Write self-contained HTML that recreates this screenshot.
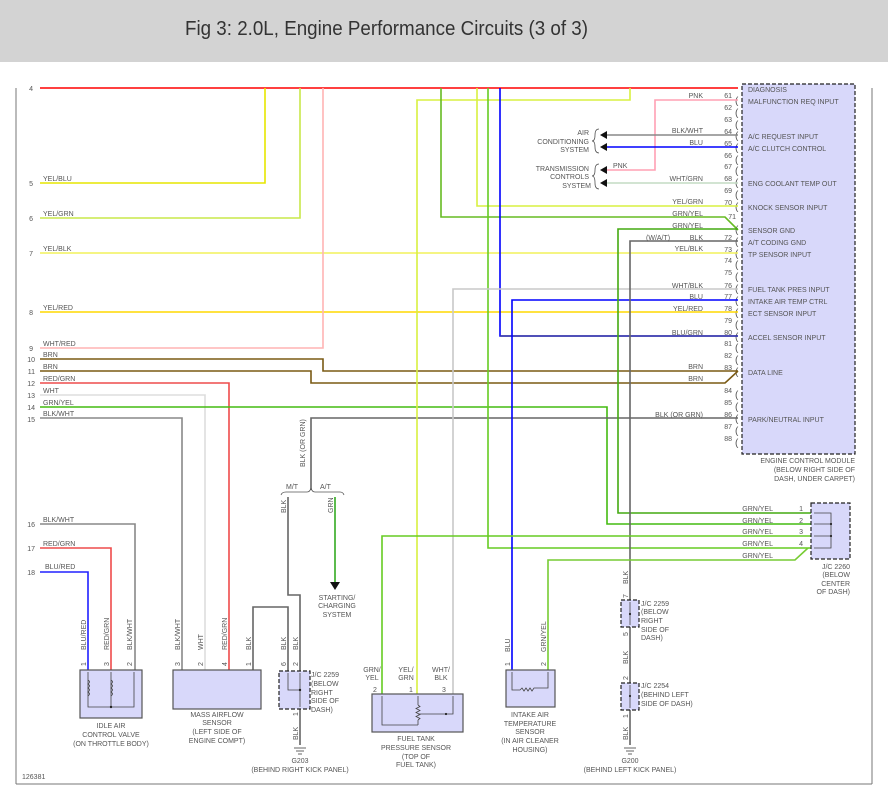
<!DOCTYPE html>
<html><head><meta charset="utf-8"><style>
html,body{margin:0;padding:0;background:#fff;width:888px;height:800px;overflow:hidden}
svg{display:block}
text{font-family:"Liberation Sans",sans-serif;font-size:7px;fill:#555}
.t{font-size:7.2px}
.w{fill:none;stroke-width:1.6}
</style></head><body>
<svg width="888" height="800" viewBox="0 0 888 800" xmlns="http://www.w3.org/2000/svg">
<rect x="0" y="0" width="888" height="62" fill="#d3d3d3"/>
<text x="185" y="35" style="font-size:20px;fill:#333" textLength="403" lengthAdjust="spacingAndGlyphs">Fig 3: 2.0L, Engine Performance Circuits (3 of 3)</text>
<line x1="16" y1="88" x2="16" y2="784" stroke="#777" stroke-width="1"/>
<line x1="872" y1="88" x2="872" y2="784" stroke="#777" stroke-width="1"/>
<line x1="16" y1="784" x2="872" y2="784" stroke="#777" stroke-width="1"/>

<!-- ECM box -->
<rect x="742" y="84" width="113" height="370" fill="#d8d8fa" stroke="#222" stroke-width="1.2" stroke-dasharray="4,2"/>
<g>
<text x="748" y="92">DIAGNOSIS</text>
<text x="748" y="104">MALFUNCTION REQ INPUT</text>
<text x="748" y="139">A/C REQUEST INPUT</text>
<text x="748" y="151">A/C CLUTCH CONTROL</text>
<text x="748" y="186">ENG COOLANT TEMP OUT</text>
<text x="748" y="210">KNOCK SENSOR INPUT</text>
<text x="748" y="233">SENSOR GND</text>
<text x="748" y="245">A/T CODING GND</text>
<text x="748" y="257">TP SENSOR INPUT</text>
<text x="748" y="292">FUEL TANK PRES INPUT</text>
<text x="748" y="304">INTAKE AIR TEMP CTRL</text>
<text x="748" y="316">ECT SENSOR INPUT</text>
<text x="748" y="340">ACCEL SENSOR INPUT</text>
<text x="748" y="375">DATA LINE</text>
<text x="748" y="422">PARK/NEUTRAL INPUT</text>
<text x="855" y="463" text-anchor="end">ENGINE CONTROL MODULE</text>
<text x="855" y="472" text-anchor="end">(BELOW RIGHT SIDE OF</text>
<text x="855" y="481" text-anchor="end">DASH, UNDER CARPET)</text>
</g>
<!-- ECM pin numbers -->
<g text-anchor="end">
<text x="732" y="98">61</text><text x="732" y="110">62</text><text x="732" y="122">63</text>
<text x="732" y="134">64</text><text x="732" y="146">65</text><text x="732" y="158">66</text>
<text x="732" y="169">67</text><text x="732" y="181">68</text><text x="732" y="193">69</text>
<text x="732" y="205">70</text><text x="736" y="219">71</text><text x="732" y="240">72</text>
<text x="732" y="252">73</text><text x="732" y="263">74</text><text x="732" y="275">75</text>
<text x="732" y="288">76</text><text x="732" y="299">77</text><text x="732" y="311">78</text>
<text x="732" y="323">79</text><text x="732" y="335">80</text><text x="732" y="346">81</text>
<text x="732" y="358">82</text><text x="732" y="370">83</text><text x="732" y="393">84</text>
<text x="732" y="405">85</text><text x="732" y="417">86</text><text x="732" y="429">87</text>
<text x="732" y="441">88</text>
</g>
<g style="font-size:10px" fill="#333">
<text x="735" y="104" style="font-size:10px">(</text><text x="735" y="116" style="font-size:10px">(</text><text x="735" y="128" style="font-size:10px">(</text>
<text x="735" y="139" style="font-size:10px">(</text><text x="735" y="151" style="font-size:10px">(</text><text x="735" y="163" style="font-size:10px">(</text>
<text x="735" y="174" style="font-size:10px">(</text><text x="735" y="186" style="font-size:10px">(</text><text x="735" y="198" style="font-size:10px">(</text>
<text x="735" y="210" style="font-size:10px">(</text><text x="735" y="233" style="font-size:10px">(</text><text x="735" y="245" style="font-size:10px">(</text>
<text x="735" y="257" style="font-size:10px">(</text><text x="735" y="268" style="font-size:10px">(</text><text x="735" y="280" style="font-size:10px">(</text>
<text x="735" y="292" style="font-size:10px">(</text><text x="735" y="304" style="font-size:10px">(</text><text x="735" y="316" style="font-size:10px">(</text>
<text x="735" y="328" style="font-size:10px">(</text><text x="735" y="340" style="font-size:10px">(</text><text x="735" y="351" style="font-size:10px">(</text>
<text x="735" y="363" style="font-size:10px">(</text><text x="735" y="375" style="font-size:10px">(</text><text x="735" y="398" style="font-size:10px">(</text>
<text x="735" y="410" style="font-size:10px">(</text><text x="735" y="422" style="font-size:10px">(</text><text x="735" y="434" style="font-size:10px">(</text>
<text x="735" y="446" style="font-size:10px">(</text>
</g>

<!-- wires -->
<path class="w" stroke="#ff0000" d="M40 88 H738"/>
<path class="w" stroke="#e6e600" d="M40 183 H265 V88"/>
<path class="w" stroke="#c8e84a" d="M40 218 H300 V88"/>
<path class="w" stroke="#f2f25a" d="M40 253 H738"/>
<path class="w" stroke="#ffd800" d="M40 312 H738"/>
<path class="w" stroke="#ffb4b4" d="M40 348 H323 V88"/>
<path class="w" stroke="#7a5a14" d="M40 359 H323 V371 H738"/>
<path class="w" stroke="#7a5a14" d="M40 371 H311 V383 H725 L738 371"/>
<path class="w" stroke="#ee4b4b" d="M40 383 H229 V670"/>
<path class="w" stroke="#dddddd" d="M40 395 H205 V670"/>
<path class="w" stroke="#44bb11" d="M40 407 H607 V524 H812"/>
<path class="w" stroke="#888888" d="M40 418 H182 V670"/>
<path class="w" stroke="#666666" d="M738 418 H311 V490"/>
<path class="w" stroke="#ffa0b4" d="M738 100 H655 V170 H605"/>
<path class="w" stroke="#888888" d="M738 135 H605"/>
<path class="w" stroke="#0000ff" d="M738 147 H605"/>
<path class="w" stroke="#c4dcc4" d="M738 183 H605"/>
<path class="w" stroke="#d8f040" d="M630 88 V100 H417 V694"/>
<path class="w" stroke="#66bb22" d="M441 88 V217 H725 L738 230"/>
<path class="w" stroke="#d8f040" d="M477 88 V206 H738"/>
<path class="w" stroke="#66cc22" d="M488 88 V548 H812"/>
<path class="w" stroke="#0000ff" d="M500 88 V336 H738"/>
<path class="w" stroke="#4040a0" d="M500 336 H738" stroke-width="0.6"/>
<path class="w" stroke="#0000ff" d="M512 670 V300 H738"/>
<path class="w" stroke="#c8c8c8" d="M453 694 V289 H738"/>
<path class="w" stroke="#44aa11" d="M738 229 H618 V513 H812"/>
<path class="w" stroke="#666666" d="M738 241 H630 V600"/>
<path class="w" stroke="#66cc22" d="M382 694 V536 H812"/>
<path class="w" stroke="#77cc33" d="M548 670 V560 H795 L808 548"/>
<path class="w" stroke="#2020ff" d="M40 572 H88 V670"/>
<path class="w" stroke="#ee4b4b" d="M40 548 H111 V670"/>
<path class="w" stroke="#888888" d="M40 524 H135 V670"/>
<path class="w" stroke="#666666" d="M253 670 V607 H288 V671"/>
<path class="w" stroke="#666666" d="M288 497 V595 H300 V671"/>
<path class="w" stroke="#33aa22" d="M335 497 V583"/>
<path d="M330 582 L340 582 L335 590 Z" fill="#111"/>
<path class="w" stroke="#666666" d="M300 709 V745"/>
<path class="w" stroke="#666666" d="M630 627 V683"/>
<path class="w" stroke="#666666" d="M630 710 V745"/>

<!-- wire numbers & labels left -->
<g text-anchor="end">
<text x="33" y="91">4</text><text x="33" y="186">5</text><text x="33" y="221">6</text>
<text x="33" y="256">7</text><text x="33" y="315">8</text><text x="33" y="351">9</text>
<text x="35" y="362">10</text><text x="35" y="374">11</text><text x="35" y="386">12</text>
<text x="35" y="398">13</text><text x="35" y="410">14</text><text x="35" y="422">15</text>
<text x="35" y="527">16</text><text x="35" y="551">17</text><text x="35" y="575">18</text>
</g>
<g>
<text x="43" y="181">YEL/BLU</text><text x="43" y="216">YEL/GRN</text><text x="43" y="251">YEL/BLK</text>
<text x="43" y="310">YEL/RED</text><text x="43" y="346">WHT/RED</text><text x="43" y="357">BRN</text>
<text x="43" y="369">BRN</text><text x="43" y="381">RED/GRN</text><text x="43" y="393">WHT</text>
<text x="43" y="405">GRN/YEL</text><text x="43" y="416">BLK/WHT</text>
<text x="43" y="522">BLK/WHT</text><text x="43" y="546">RED/GRN</text><text x="45" y="569">BLU/RED</text>
</g>
<!-- ECM side wire labels -->
<g text-anchor="end">
<text x="703" y="98">PNK</text><text x="703" y="133">BLK/WHT</text><text x="703" y="145">BLU</text>
<text x="703" y="181">WHT/GRN</text><text x="703" y="204">YEL/GRN</text><text x="703" y="216">GRN/YEL</text>
<text x="703" y="228">GRN/YEL</text><text x="703" y="240">BLK</text><text x="703" y="251">YEL/BLK</text>
<text x="703" y="288">WHT/BLK</text><text x="703" y="299">BLU</text><text x="703" y="311">YEL/RED</text>
<text x="703" y="335">BLU/GRN</text><text x="703" y="369">BRN</text><text x="703" y="381">BRN</text>
<text x="703" y="417">BLK (OR GRN)</text>
</g>
<text x="646" y="240">(W/A/T)</text>
<text x="613" y="168">PNK</text>
<!-- AC / trans arrows -->
<g fill="#111">
<path d="M600 135 L607 131 L607 139 Z"/><path d="M600 147 L607 143 L607 151 Z"/>
<path d="M600 170 L607 166 L607 174 Z"/><path d="M600 183 L607 179 L607 187 Z"/>
</g>
<path d="M599 129 Q595 129 595 135 Q595 141 592 141 Q595 141 595 147 Q595 153 599 153" fill="none" stroke="#555" stroke-width="0.8"/>
<path d="M599 164 Q595 164 595 170 Q595 176 592 176 Q595 176 595 183 Q595 189 599 189" fill="none" stroke="#555" stroke-width="0.8"/>
<g text-anchor="end">
<text x="589" y="135">AIR</text><text x="589" y="144">CONDITIONING</text><text x="589" y="152">SYSTEM</text>
<text x="589" y="171">TRANSMISSION</text><text x="589" y="179">CONTROLS</text><text x="591" y="188">SYSTEM</text>
</g>

<!-- M/T A/T brace -->
<path d="M281 495 Q282 492 286 492 H307 Q310 492 311 488 Q312 492 315 492 H340 Q343 492 344 495" fill="none" stroke="#555" stroke-width="0.8"/>
<text x="286" y="489">M/T</text><text x="320" y="489">A/T</text>
<text transform="translate(305,467) rotate(-90)">BLK (OR GRN)</text>
<text transform="translate(286,513) rotate(-90)">BLK</text>
<text transform="translate(333,513) rotate(-90)">GRN</text>
<g text-anchor="middle">
<text x="337" y="600">STARTING/</text><text x="337" y="608">CHARGING</text><text x="337" y="617">SYSTEM</text>
</g>

<!-- Idle air control valve -->
<rect x="80" y="670" width="62" height="48" fill="#d8d8fa" stroke="#555" stroke-width="1.2"/>
<path d="M88 672 V707 H134 V672 M111 672 V707" fill="none" stroke="#444" stroke-width="0.8"/>
<path d="M88 680 q3 2 0 4 q3 2 0 4 q3 2 0 4 q3 2 0 4 M111 680 q3 2 0 4 q3 2 0 4 q3 2 0 4 q3 2 0 4" fill="none" stroke="#444" stroke-width="0.8"/>
<circle cx="111" cy="707" r="1.2" fill="#222"/>
<g text-anchor="middle"><text x="111" y="728">IDLE AIR</text><text x="111" y="737">CONTROL VALVE</text><text x="111" y="746">(ON THROTTLE BODY)</text></g>
<g>
<text transform="translate(86,650) rotate(-90)">BLU/RED</text>
<text transform="translate(109,650) rotate(-90)">RED/GRN</text>
<text transform="translate(132,650) rotate(-90)">BLK/WHT</text>
<text transform="translate(86,666) rotate(-90)">1</text>
<text transform="translate(109,666) rotate(-90)">3</text>
<text transform="translate(132,666) rotate(-90)">2</text>
</g>
<!-- MAF -->
<rect x="173" y="670" width="88" height="39" fill="#d8d8fa" stroke="#555" stroke-width="1.2"/>
<g text-anchor="middle"><text x="217" y="717">MASS AIRFLOW</text><text x="217" y="725">SENSOR</text><text x="217" y="734">(LEFT SIDE OF</text><text x="217" y="743">ENGINE COMPT)</text></g>
<text transform="translate(180,650) rotate(-90)">BLK/WHT</text>
<text transform="translate(203,650) rotate(-90)">WHT</text>
<text transform="translate(227,650) rotate(-90)">RED/GRN</text>
<text transform="translate(251,650) rotate(-90)">BLK</text>
<text transform="translate(180,666) rotate(-90)">3</text><text transform="translate(203,666) rotate(-90)">2</text>
<text transform="translate(227,666) rotate(-90)">4</text><text transform="translate(251,666) rotate(-90)">1</text>
<!-- JC 2259 left -->
<rect x="279" y="671" width="31" height="38" fill="#d8d8fa" stroke="#222" stroke-width="1.2" stroke-dasharray="4,2"/>
<path d="M288 673 V690 H300 M300 673 V707" fill="none" stroke="#444" stroke-width="0.8"/>
<circle cx="300" cy="690" r="1.2" fill="#222"/>
<text transform="translate(286,650) rotate(-90)">BLK</text>
<text transform="translate(298,650) rotate(-90)">BLK</text>
<text transform="translate(286,666) rotate(-90)">6</text><text transform="translate(298,666) rotate(-90)">2</text>
<text transform="translate(298,716) rotate(-90)">1</text>
<text transform="translate(298,740) rotate(-90)">BLK</text>
<g><text x="311" y="677">J/C 2259</text><text x="311" y="686">(BELOW</text><text x="311" y="695">RIGHT</text><text x="311" y="703">SIDE OF</text><text x="311" y="712">DASH)</text></g>
<path d="M294 748 H306 M296 751 H304 M298 754 H302" stroke="#333" stroke-width="0.8"/>
<g text-anchor="middle"><text x="300" y="763">G203</text><text x="300" y="772">(BEHIND RIGHT KICK PANEL)</text></g>
<!-- Fuel tank pressure sensor -->
<rect x="372" y="694" width="91" height="38" fill="#d8d8fa" stroke="#555" stroke-width="1.2"/>
<path d="M382 696 V725 H418 M418 696 V705 M418 720 V725 M453 696 V714 H418" fill="none" stroke="#444" stroke-width="0.8"/>
<path d="M418 705 l2 1.5 l-4 2 l4 2 l-4 2 l4 2 l-4 2 l4 2 l-2 1.5" fill="none" stroke="#444" stroke-width="0.8"/>
<circle cx="446" cy="714" r="1.1" fill="#222"/>
<g text-anchor="middle"><text x="372" y="672">GRN/</text><text x="372" y="680">YEL</text><text x="406" y="672">YEL/</text><text x="406" y="680">GRN</text><text x="441" y="672">WHT/</text><text x="441" y="680">BLK</text>
<text x="416" y="741">FUEL TANK</text><text x="416" y="750">PRESSURE SENSOR</text><text x="416" y="759">(TOP OF</text><text x="416" y="767">FUEL TANK)</text></g>
<text x="373" y="692">2</text><text x="409" y="692">1</text><text x="442" y="692">3</text>
<!-- Intake air temp -->
<rect x="506" y="670" width="49" height="37" fill="#d8d8fa" stroke="#555" stroke-width="1.2"/>
<path d="M512 672 V690 H520 l2 -2 l2 3 l2 -3 l2 3 l2 -3 l2 3 l2 -3 H548 V672" fill="none" stroke="#444" stroke-width="0.8"/>
<text transform="translate(510,652) rotate(-90)">BLU</text>
<text transform="translate(546,652) rotate(-90)">GRN/YEL</text>
<text transform="translate(510,666) rotate(-90)">1</text><text transform="translate(546,666) rotate(-90)">2</text>
<g text-anchor="middle"><text x="530" y="717">INTAKE AIR</text><text x="530" y="726">TEMPERATURE</text><text x="530" y="734">SENSOR</text><text x="530" y="743">(IN AIR CLEANER</text><text x="530" y="752">HOUSING)</text></g>
<!-- JC 2259 right, JC 2254 -->
<rect x="621" y="600" width="18" height="27" fill="#d8d8fa" stroke="#222" stroke-width="1.2" stroke-dasharray="4,2"/>
<path d="M630 602 V625" stroke="#444" stroke-width="0.8"/><circle cx="630" cy="614" r="1.1" fill="#222"/>
<rect x="621" y="683" width="18" height="27" fill="#d8d8fa" stroke="#222" stroke-width="1.2" stroke-dasharray="4,2"/>
<path d="M630 685 V708" stroke="#444" stroke-width="0.8"/><circle cx="630" cy="696" r="1.1" fill="#222"/>
<text transform="translate(628,584) rotate(-90)">BLK</text>
<text transform="translate(628,598) rotate(-90)">7</text>
<text transform="translate(628,636) rotate(-90)">5</text>
<text transform="translate(628,664) rotate(-90)">BLK</text>
<text transform="translate(628,680) rotate(-90)">2</text>
<text transform="translate(628,718) rotate(-90)">1</text>
<text transform="translate(628,740) rotate(-90)">BLK</text>
<g><text x="641" y="606">J/C 2259</text><text x="641" y="614">(BELOW</text><text x="641" y="623">RIGHT</text><text x="641" y="632">SIDE OF</text><text x="641" y="640">DASH)</text>
<text x="641" y="688">J/C 2254</text><text x="641" y="697">(BEHIND LEFT</text><text x="641" y="706">SIDE OF DASH)</text></g>
<path d="M624 748 H636 M626 751 H634 M628 754 H632" stroke="#333" stroke-width="0.8"/>
<g text-anchor="middle"><text x="630" y="763">G200</text><text x="630" y="772">(BEHIND LEFT KICK PANEL)</text></g>
<!-- JC 2260 -->
<rect x="811" y="503" width="39" height="56" fill="#d8d8fa" stroke="#222" stroke-width="1.2" stroke-dasharray="4,2"/>
<path d="M814 513 H831 V548 H814 M814 524 H831 M814 536 H831" fill="none" stroke="#444" stroke-width="0.8"/>
<circle cx="831" cy="524" r="1.1" fill="#222"/><circle cx="831" cy="536" r="1.1" fill="#222"/>
<g text-anchor="end"><text x="773" y="511">GRN/YEL</text><text x="773" y="523">GRN/YEL</text><text x="773" y="534">GRN/YEL</text><text x="773" y="546">GRN/YEL</text><text x="773" y="558">GRN/YEL</text>
<text x="803" y="511">1</text><text x="803" y="523">2</text><text x="803" y="534">3</text><text x="803" y="546">4</text>
<text x="850" y="569">J/C 2260</text><text x="850" y="577">(BELOW</text><text x="850" y="586">CENTER</text><text x="850" y="594">OF DASH)</text></g>
<text x="22" y="779">126381</text>
</svg>
</body></html>
